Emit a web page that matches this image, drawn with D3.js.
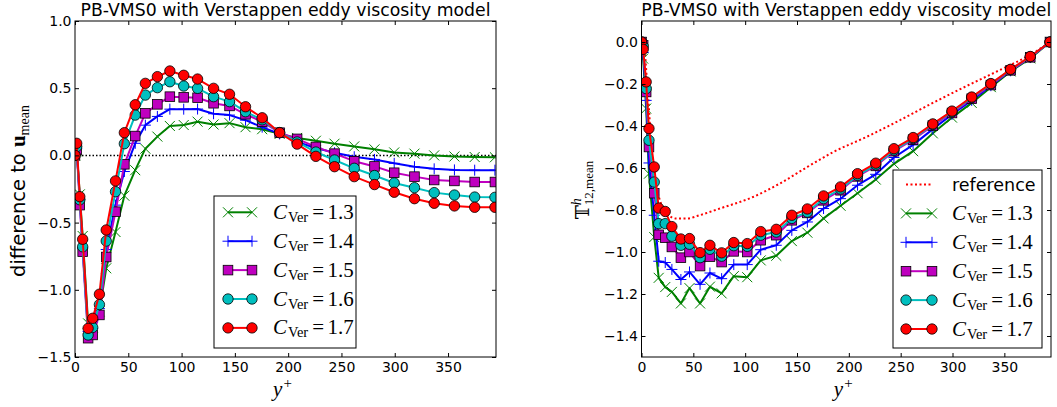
<!DOCTYPE html>
<html>
<head>
<meta charset="utf-8">
<script src="https://cdn.jsdelivr.net/npm/d3@7"></script>
<style>
  body { margin: 0; background: #fff; }
  svg { display: block; }
  .tick text { font-family: "DejaVu Sans", sans-serif; font-size: 14px; fill: #000; }
  .tick line { stroke: #000; stroke-width: 1; }
</style>
</head>
<body>
<div id="container"></div>
<script>
/* DATA */
const yPlus = [0, 1.6, 4.5, 7.2, 12.3, 16.6, 22.9, 29.3, 38, 46.3, 56.5, 66, 77.3, 89, 102, 115,
  130, 145, 160, 175.6, 192, 208.4, 226, 243.5, 262, 281, 299.5, 318.5, 337, 356, 375, 394];

const cVer = ["1.3", "1.4", "1.5", "1.6", "1.7"];

// difference to u_mean
const diff13 = [0, 0.03, -0.29, -0.6, -1.25, -1.28, -1.16, -0.84, -0.57, -0.3, -0.11, 0.05, 0.14, 0.219, 0.226, 0.251,
  0.23, 0.24, 0.21, 0.195, 0.16, 0.13, 0.109, 0.087, 0.067, 0.045, 0.022, 0.013, 0.0, -0.008, -0.012, -0.014];
const diff14 = [0, 0.05, -0.33, -0.69, -1.31, -1.29, -1.14, -0.7, -0.37, -0.12, 0.09, 0.225, 0.29, 0.344, 0.344, 0.345,
  0.31, 0.3, 0.262, 0.21, 0.16, 0.1, 0.055, 0.02, -0.01, -0.03, -0.059, -0.084, -0.1, -0.108, -0.11, -0.11];
const diff15 = [0, 0.04, -0.37, -0.716, -1.36, -1.336, -1.187, -0.756, -0.419, -0.066, 0.144, 0.313, 0.38, 0.437, 0.432, 0.429,
  0.388, 0.368, 0.306, 0.251, 0.169, 0.123, 0.063, 0.013, -0.043, -0.082, -0.129, -0.158, -0.183, -0.19, -0.198, -0.198];
const diff16 = [0, 0.065, -0.33, -0.68, -1.336, -1.28, -1.11, -0.637, -0.27, 0.087, 0.3, 0.449, 0.504, 0.548, 0.516, 0.499,
  0.437, 0.4, 0.325, 0.265, 0.17, 0.1, 0.025, -0.034, -0.096, -0.15, -0.205, -0.24, -0.277, -0.295, -0.31, -0.312];
const diff17 = [0, 0.09, -0.307, -0.624, -1.287, -1.212, -1.033, -0.555, -0.19, 0.169, 0.377, 0.536, 0.586, 0.628, 0.596, 0.568,
  0.499, 0.455, 0.362, 0.28, 0.169, 0.084, -0.007, -0.084, -0.158, -0.217, -0.274, -0.322, -0.356, -0.376, -0.386, -0.386];

// T^h_12,mean
const stress13 = [0, -0.079, -0.317, -0.627, -0.929, -1.123, -1.167, -1.19, -1.245, -1.172, -1.245, -1.165, -1.197, -1.115, -1.12, -1.04,
  -1.018, -0.948, -0.908, -0.84, -0.78, -0.72, -0.655, -0.58, -0.52, -0.435, -0.36, -0.29, -0.215, -0.14, -0.078, 0];
const stress14 = [0, -0.05, -0.278, -0.576, -0.825, -1.044, -1.05, -1.083, -1.131, -1.095, -1.154, -1.1, -1.127, -1.06, -1.06, -0.989,
  -0.968, -0.897, -0.857, -0.793, -0.746, -0.682, -0.63, -0.55, -0.49, -0.415, -0.345, -0.278, -0.208, -0.137, -0.074, 0];
const stress15 = [0, -0.016, -0.238, -0.5, -0.72, -0.918, -0.932, -0.976, -1.027, -1.0, -1.067, -1.022, -1.048, -0.997, -1.0, -0.944,
  -0.92, -0.849, -0.814, -0.754, -0.706, -0.64, -0.59, -0.52, -0.465, -0.398, -0.338, -0.27, -0.205, -0.135, -0.073, 0];
const stress16 = [0, -0.02, -0.222, -0.468, -0.667, -0.865, -0.865, -0.925, -0.968, -0.963, -1.027, -0.987, -1.02, -0.97, -0.973, -0.92,
  -0.905, -0.84, -0.81, -0.746, -0.7, -0.635, -0.585, -0.515, -0.46, -0.393, -0.333, -0.265, -0.2, -0.132, -0.07, 0];
const stress17 = [0, -0.035, -0.19, -0.412, -0.595, -0.791, -0.807, -0.879, -0.938, -0.936, -1.003, -0.968, -1.004, -0.955, -0.96, -0.903,
  -0.892, -0.825, -0.795, -0.733, -0.69, -0.627, -0.577, -0.508, -0.455, -0.39, -0.329, -0.262, -0.198, -0.13, -0.069, 0];

// reference curve
const refYplus = [0, 2.5, 5, 7.5, 9.8, 13, 17.8, 24.3, 34, 43.5, 56, 75.5, 107.6, 133.4, 160, 185, 217, 249, 281, 313, 345, 377, 394];
const refStress = [0, -0.02, -0.167, -0.341, -0.531, -0.659, -0.754, -0.817, -0.841, -0.841, -0.825, -0.793, -0.738, -0.674,
  -0.595, -0.524, -0.452, -0.373, -0.29, -0.211, -0.135, -0.055, 0];

const xTicks = [0, 50, 100, 150, 200, 250, 300, 350];
const leftYTicks = [-1.5, -1.0, -0.5, 0.0, 0.5, 1.0];
const rightYTicks = [-1.4, -1.2, -1.0, -0.8, -0.6, -0.4, -0.2, 0.0];

/* STYLES */
const colors = ["#008000", "#0000ff", "#bf00bf", "#00bfbf", "#ff0000"];
const markers = ["x", "plus", "square", "circle", "circle"];
const titleText = "PB-VMS0 with Verstappen eddy viscosity model";

const svg = d3.select("#container").append("svg")
  .attr("width", 1057).attr("height", 407);

function drawMarker(g, type, color, x, y) {
  if (type === "x") {
    g.append("path").attr("d", `M${x - 5},${y - 5}L${x + 5},${y + 5}M${x - 5},${y + 5}L${x + 5},${y - 5}`)
      .attr("stroke", color).attr("stroke-width", 1).attr("fill", "none");
  } else if (type === "plus") {
    g.append("path").attr("d", `M${x - 5.5},${y}H${x + 5.5}M${x},${y - 5.5}V${y + 5.5}`)
      .attr("stroke", color).attr("stroke-width", 1).attr("fill", "none");
  } else if (type === "square") {
    g.append("rect").attr("x", x - 4.8).attr("y", y - 4.8).attr("width", 9.6).attr("height", 9.6)
      .attr("fill", color).attr("stroke", "#000").attr("stroke-width", 0.8);
  } else {
    g.append("circle").attr("cx", x).attr("cy", y).attr("r", 5.2)
      .attr("fill", color).attr("stroke", "#000").attr("stroke-width", 0.8);
  }
}

function cLabel(g, x, y, val) {
  const t = g.append("text").attr("x", x).attr("y", y)
    .attr("font-family", "'Liberation Serif', serif").attr("font-size", 21);
  t.append("tspan").attr("font-style", "italic").text("C");
  t.append("tspan").attr("font-size", 14.5).attr("dy", 3).attr("dx", 1).text("Ver");
  t.append("tspan").attr("dy", -3).attr("dx", 4).text("=");
  t.append("tspan").attr("dx", 3.5).text(val);
}

function panel(cfg) {
  const x = d3.scaleLinear().domain([0, 395]).range([cfg.left, cfg.right]);
  const y = d3.scaleLinear().domain(cfg.yDomain).range([357, 21]);
  const g = svg.append("g");

  const clipId = "clip" + cfg.id;
  svg.append("clipPath").attr("id", clipId).append("rect")
    .attr("x", cfg.left).attr("y", 21).attr("width", cfg.right - cfg.left).attr("height", 336);

  const plot = g.append("g").attr("clip-path", `url(#${clipId})`);

  if (cfg.zeroLine) {
    plot.append("line")
      .attr("x1", cfg.left).attr("x2", cfg.right).attr("y1", y(0)).attr("y2", y(0))
      .attr("stroke", "#000").attr("stroke-width", 1.5).attr("stroke-dasharray", "1.5,2");
  }
  if (cfg.ref) {
    plot.append("path")
      .datum(refYplus.map((d, i) => [d, refStress[i]]))
      .attr("d", d3.line().x(d => x(d[0])).y(d => y(d[1])).curve(d3.curveMonotoneX))
      .attr("fill", "none").attr("stroke", "#ff0000").attr("stroke-width", 2)
      .attr("stroke-dasharray", "2,2.5");
  }

  cfg.series.forEach((vals, k) => {
    const pts = yPlus.map((d, i) => [d, vals[i]]);
    plot.append("path").datum(pts)
      .attr("d", d3.line().x(d => x(d[0])).y(d => y(d[1])))
      .attr("fill", "none").attr("stroke", colors[k]).attr("stroke-width", 2)
      .attr("stroke-linejoin", "round");
    const mg = plot.append("g");
    pts.forEach(p => drawMarker(mg, markers[k], colors[k], x(p[0]), y(p[1])));
  });

  // axes
  g.append("g").attr("transform", "translate(0,357)")
    .call(d3.axisBottom(x).tickValues(xTicks).tickSizeInner(-4).tickSizeOuter(0).tickPadding(5))
    .call(a => a.select(".domain").remove());
  g.append("g").attr("transform", "translate(0,21)")
    .call(d3.axisTop(x).tickValues(xTicks).tickSizeInner(-4).tickSizeOuter(0).tickFormat(""))
    .call(a => a.select(".domain").remove());
  g.append("g").attr("transform", `translate(${cfg.left},0)`)
    .call(d3.axisLeft(y).tickValues(cfg.yTicks).tickSizeInner(-4).tickSizeOuter(0).tickPadding(3.5)
      .tickFormat(d3.format(".1f")))
    .call(a => a.select(".domain").remove());
  g.append("g").attr("transform", `translate(${cfg.right},0)`)
    .call(d3.axisRight(y).tickValues(cfg.yTicks).tickSizeInner(-4).tickSizeOuter(0).tickFormat(""))
    .call(a => a.select(".domain").remove());

  g.append("rect").attr("x", cfg.left).attr("y", 21)
    .attr("width", cfg.right - cfg.left).attr("height", 336)
    .attr("fill", "none").attr("stroke", "#000").attr("stroke-width", 1);

  // title
  g.append("text").attr("x", (cfg.left + cfg.right) / 2).attr("y", 16)
    .attr("text-anchor", "middle").attr("font-family", "'DejaVu Sans', sans-serif")
    .attr("font-size", 17.3).text(titleText);

  // x label
  const xl = g.append("text").attr("x", (cfg.left + cfg.right) / 2 - 3).attr("y", 396)
    .attr("text-anchor", "middle").attr("font-family", "'Liberation Serif', serif").attr("font-size", 21);
  xl.append("tspan").attr("font-style", "italic").text("y");
  xl.append("tspan").attr("font-size", 15).attr("dy", -8).attr("dx", 1).text("+");

  // legend
  const lg = g.append("g");
  const L = cfg.legend;
  lg.append("rect").attr("x", L.x).attr("y", L.y).attr("width", L.w).attr("height", L.h)
    .attr("fill", "#fff").attr("stroke", "#000").attr("stroke-width", 1);
  let row = 0;
  if (cfg.ref) {
    const ry = L.row0;
    lg.append("line").attr("x1", L.s0).attr("x2", L.s1).attr("y1", ry).attr("y2", ry)
      .attr("stroke", "#ff0000").attr("stroke-width", 2).attr("stroke-dasharray", "2,2.5");
    lg.append("text").attr("x", L.tx).attr("y", ry + 6.5)
      .attr("font-family", "'DejaVu Sans', sans-serif").attr("font-size", 17.5).text("reference");
    row = 1;
  }
  cVer.forEach((c, k) => {
    const ry = L.row0 + (row + k) * 28.9;
    lg.append("line").attr("x1", L.s0).attr("x2", L.s1).attr("y1", ry).attr("y2", ry)
      .attr("stroke", colors[k]).attr("stroke-width", 2);
    drawMarker(lg, markers[k], colors[k], L.s0, ry);
    drawMarker(lg, markers[k], colors[k], L.s1, ry);
    cLabel(lg, L.tx, ry + 6.5, c);
  });
  return g;
}

panel({
  id: "L", left: 75, right: 496, yDomain: [-1.5, 1.0], yTicks: leftYTicks, zeroLine: true,
  series: [diff13, diff14, diff15, diff16, diff17],
  legend: { x: 214, y: 196, w: 142, h: 152, row0: 212.3, s0: 228, s1: 252, tx: 273 }
});
panel({
  id: "R", left: 641.5, right: 1051, yDomain: [-1.5, 0.1], yTicks: rightYTicks, ref: true,
  series: [stress13, stress14, stress15, stress16, stress17],
  legend: { x: 893, y: 170, w: 149, h: 178, row0: 184.5, s0: 906, s1: 932, tx: 952 }
});

// y labels
const yl = svg.append("text").attr("transform", "translate(25,191) rotate(-90)")
  .attr("text-anchor", "middle").attr("font-family", "'DejaVu Sans', sans-serif").attr("font-size", 19.5);
yl.append("tspan").text("difference to ");
yl.append("tspan").attr("font-family", "'Liberation Serif', serif").attr("font-weight", "bold").attr("font-size", 21).text("u");
yl.append("tspan").attr("font-family", "'Liberation Serif', serif").attr("font-size", 14).attr("dy", 4).text("mean");

const yr = svg.append("text").attr("transform", "translate(589,190) rotate(-90)")
  .attr("text-anchor", "middle").attr("font-family", "'DejaVu Serif', serif").attr("font-size", 19);
yr.append("tspan").text("𝕋");
yr.append("tspan").attr("font-family", "'Liberation Serif', serif").attr("font-style", "italic")
  .attr("font-size", 14).attr("dy", -8).text("h");
yr.append("tspan").attr("font-family", "'Liberation Serif', serif").attr("font-size", 13)
  .attr("dy", 12).attr("dx", -7).text("12,mean");
</script>
</body>
</html>
